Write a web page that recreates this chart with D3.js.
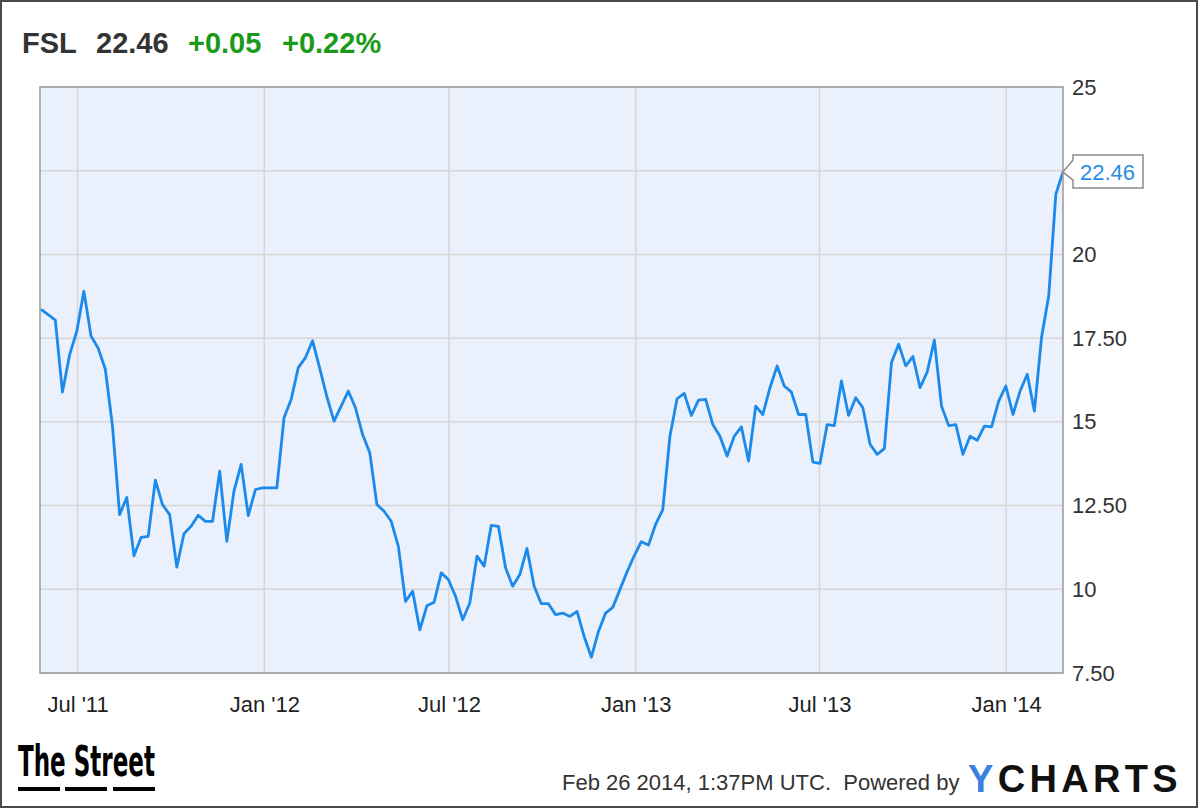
<!DOCTYPE html>
<html>
<head>
<meta charset="utf-8">
<script src="https://cdn.jsdelivr.net/npm/d3@7"></script>
<style>
  html, body { margin: 0; padding: 0; background: #fff; }
  svg { display: block; font-family: "Liberation Sans", Arial, Helvetica, sans-serif; }
</style>
</head>
<body>
<svg id="chart" width="1200" height="810"></svg>
<script>
// ---- data ----
const ticker = "FSL";
const lastPrice = "22.46";
const change = "+0.05";
const changePct = "+0.22%";
const timestamp = "Feb 26 2014, 1:37PM UTC.";
const startDate = "2011-05-26";
const endDate = "2014-02-26";
const windowStart = "2011-05-25";
const prices = [
  18.36, 18.2, 18.04, 15.89, 17.0, 17.7, 18.9, 17.56, 17.2, 16.57,
  14.87, 12.23, 12.74, 11.0, 11.55, 11.58, 13.26, 12.53, 12.23, 10.66,
  11.66, 11.88, 12.21, 12.03, 12.03, 13.53, 11.43, 12.93, 13.73, 12.2,
  12.98, 13.03, 13.03, 13.03, 15.12, 15.67, 16.62, 16.92, 17.42, 16.6,
  15.75, 15.02, 15.47, 15.92, 15.42, 14.62, 14.08, 12.53, 12.33, 12.03,
  11.28, 9.64, 9.94, 8.79, 9.51, 9.61, 10.49, 10.29, 9.79, 9.09,
  9.59, 10.99, 10.69, 11.91, 11.88, 10.64, 10.09, 10.44, 11.22, 10.09,
  9.57, 9.57, 9.24, 9.29, 9.19, 9.34, 8.59, 7.97, 8.74, 9.29,
  9.46, 9.99, 10.52, 11.0, 11.42, 11.32, 11.94, 12.38, 14.57, 15.69,
  15.85, 15.19, 15.65, 15.67, 14.92, 14.57, 13.98, 14.57, 14.85, 13.83,
  15.47, 15.22, 16.02, 16.67, 16.07, 15.89, 15.22, 15.22, 13.80, 13.76,
  14.92, 14.89, 16.22, 15.19, 15.72, 15.42, 14.33, 14.03, 14.20, 16.77,
  17.32, 16.67, 16.95, 16.02, 16.49, 17.44, 15.47, 14.89, 14.92, 14.03,
  14.57, 14.45, 14.87, 14.85, 15.62, 16.07, 15.22, 15.92, 16.42, 15.32,
  17.53, 18.76, 21.80, 22.46
];
const yTicks = [7.5, 10, 12.5, 15, 17.5, 20, 22.5, 25];
const yHiddenLabels = [22.5];

// ---- layout ----
const W = 1200, H = 810;
const plot = { left: 40, right: 1063, top: 87, bottom: 673 };
const svg = d3.select("#chart");
const parse = d3.timeParse("%Y-%m-%d");
const t0 = parse(startDate), t1 = parse(endDate);
// weekly samples evenly spread between first and last date
const dates = prices.map((_, i) => new Date(+t0 + (t1 - t0) * i / (prices.length - 1)));
const data = prices.map((p, i) => ({ date: dates[i], value: p }));

const x = d3.scaleTime().domain([parse(windowStart), t1]).range([plot.left, plot.right]);
const y = d3.scaleLinear().domain([7.5, 25]).range([plot.bottom, plot.top]);

// outer frame
svg.append("rect").attr("x", 1).attr("y", 1).attr("width", 1196).attr("height", 806)
  .attr("fill", "#fff").attr("stroke", "#4a4a4a").attr("stroke-width", 2);

// header
const header = svg.append("text").attr("x", 22).attr("y", 53)
  .attr("font-size", 29).attr("font-weight", "bold");
header.append("tspan").attr("fill", "#333").text(ticker);
header.append("tspan").attr("x", 96).attr("fill", "#333").text(lastPrice);
header.append("tspan").attr("x", 188).attr("fill", "#1a9a1a").text(change);
header.append("tspan").attr("x", 282).attr("fill", "#1a9a1a").text(changePct);

// plot background
svg.append("rect").attr("x", plot.left).attr("y", plot.top)
  .attr("width", plot.right - plot.left).attr("height", plot.bottom - plot.top)
  .attr("fill", "#eaf0fc");

// grid
const xTicks = x.ticks(d3.timeMonth.every(6)).filter(d => d.getMonth() === 0 || d.getMonth() === 6);
svg.append("g").selectAll("line").data(yTicks).join("line")
  .attr("x1", plot.left).attr("x2", plot.right)
  .attr("y1", d => y(d)).attr("y2", d => y(d))
  .attr("stroke", "#d6d6d6").attr("stroke-width", 1.5);
svg.append("g").selectAll("line").data(xTicks).join("line")
  .attr("x1", d => x(d)).attr("x2", d => x(d))
  .attr("y1", plot.top).attr("y2", plot.bottom)
  .attr("stroke", "#d6d6d6").attr("stroke-width", 1.5);

// line
svg.append("clipPath").attr("id", "clip").append("rect")
  .attr("x", plot.left).attr("y", plot.top)
  .attr("width", plot.right - plot.left).attr("height", plot.bottom - plot.top);
const line = d3.line().x(d => x(d.date)).y(d => y(d.value));
svg.append("path").datum(data).attr("clip-path", "url(#clip)")
  .attr("fill", "none").attr("stroke", "#1c8aea").attr("stroke-width", 2.8)
  .attr("stroke-linejoin", "round").attr("d", line);

// plot border
svg.append("rect").attr("x", plot.left).attr("y", plot.top)
  .attr("width", plot.right - plot.left).attr("height", plot.bottom - plot.top)
  .attr("fill", "none").attr("stroke", "#9a9a9a").attr("stroke-width", 1.5);

// y axis (right)
const fmtY = d => (d % 1 ? d.toFixed(2) : String(d));
const yAxis = d3.axisRight(y).tickValues(yTicks.filter(v => !yHiddenLabels.includes(v)))
  .tickSize(0).tickPadding(9).tickFormat(fmtY);
const gy = svg.append("g").attr("transform", `translate(${plot.right},0)`).call(yAxis);
gy.select(".domain").remove();
gy.selectAll("text").attr("font-size", 22).attr("fill", "#333")
  .attr("font-family", "'Liberation Sans', Arial, sans-serif");

// x axis
const fmtX = d3.timeFormat("%b '%y");
const xAxis = d3.axisBottom(x).tickValues(xTicks).tickSize(0).tickPadding(0).tickFormat(fmtX);
const gx = svg.append("g").attr("transform", `translate(0,${plot.bottom})`).call(xAxis);
gx.select(".domain").remove();
gx.selectAll("text").attr("font-size", 22).attr("fill", "#222")
  .attr("font-family", "'Liberation Sans', Arial, sans-serif")
  .attr("dy", null).attr("y", 39);

// price tag
const last = data[data.length - 1];
const px = x(last.date), py = y(last.value);
const tagL = px + 10, tagR = px + 80, tagT = py - 17, tagB = py + 16;
svg.append("path")
  .attr("d", `M${px},${py} L${tagL},${py - 12} L${tagL},${tagT} L${tagR},${tagT} L${tagR},${tagB} L${tagL},${tagB} L${tagL},${py + 8} Z`)
  .attr("fill", "#fff").attr("stroke", "#8a8a8a").attr("stroke-width", 1.5);
svg.append("text").attr("x", tagL + 7).attr("y", py + 8)
  .attr("font-size", 22).attr("fill", "#2b8ce6").text(d3.format(".2f")(last.value));

// footer: The Street logo
svg.append("text").attr("x", 18).attr("y", 776)
  .attr("font-family", "'Liberation Sans Narrow', 'DejaVu Sans Condensed', Arial, sans-serif")
  .attr("font-weight", "bold").attr("font-size", 42).attr("fill", "#000")
  .attr("textLength", 137).attr("lengthAdjust", "spacingAndGlyphs")
  .text("The Street");
svg.append("g").selectAll("rect").data([18, 65, 113]).join("rect")
  .attr("x", d => d).attr("y", 787).attr("width", 42).attr("height", 4).attr("fill", "#000");

// footer text
svg.append("text").attr("x", 562).attr("y", 790).attr("font-size", 22).attr("fill", "#333")
  .attr("xml:space", "preserve").text(timestamp + "  Powered by");
const yc = svg.append("text").attr("x", 968).attr("y", 792)
  .attr("font-size", 38).attr("font-weight", "bold").attr("letter-spacing", 4.3);
yc.append("tspan").attr("fill", "#3b7fe0").text("Y");
yc.append("tspan").attr("fill", "#111").text("CHARTS");
</script>
</body>
</html>
